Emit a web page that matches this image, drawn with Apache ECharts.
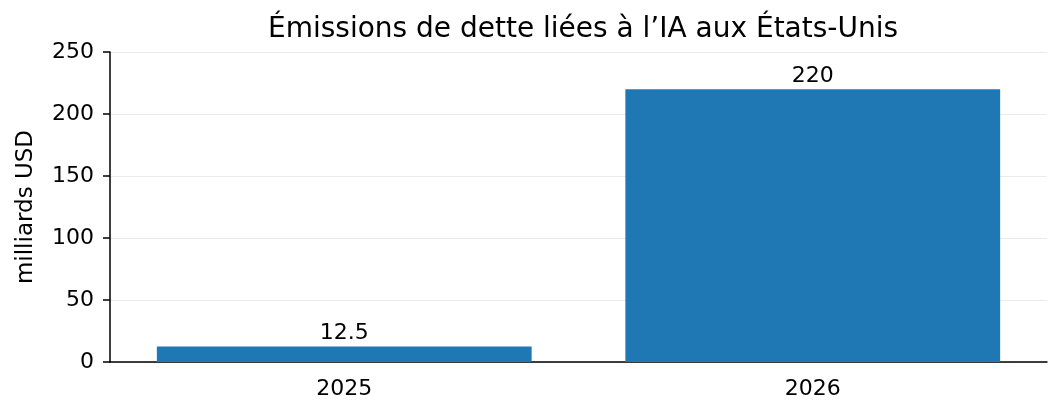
<!DOCTYPE html>
<html>
<head>
<meta charset="utf-8">
<script src="https://cdn.jsdelivr.net/npm/echarts@6/dist/echarts.min.js"></script>
<style>
  html, body { margin: 0; padding: 0; background: #fff; }
  #chart { width: 1063px; height: 418px; }
</style>
</head>
<body>
<div id="chart"></div>
<script>
var years = ['2025', '2026'];
var issuance = [12.5, 220];
var yTicks = [0, 50, 100, 150, 200, 250];

var font = 'DejaVu Sans';
var chart = echarts.init(document.getElementById('chart'));

chart.setOption({
  animation: false,
  textStyle: { fontFamily: font },
  title: {
    text: 'Émissions de dette liées à l’IA aux États-Unis',
    left: 578,
    textAlign: 'center',
    top: 11,
    textStyle: { fontFamily: font, fontSize: 28, fontWeight: 'normal', color: '#000' }
  },
  grid: { left: 110, right: 16, top: 52, bottom: 56 },
  xAxis: {
    type: 'category',
    data: years,
    axisLine: { lineStyle: { color: '#000', width: 1.5 } },
    axisTick: { alignWithLabel: true, length: 7, lineStyle: { color: '#000', width: 1.5 } },
    axisLabel: { color: '#000', fontSize: 22, margin: 16 }
  },
  yAxis: {
    type: 'value',
    min: yTicks[0],
    max: yTicks[yTicks.length - 1],
    interval: 50,
    name: 'milliards USD',
    nameLocation: 'middle',
    nameGap: 72,
    nameTextStyle: { color: '#000', fontSize: 23 },
    axisLine: { show: true, lineStyle: { color: '#000', width: 1.5 } },
    axisTick: { show: true, length: 7, lineStyle: { color: '#000', width: 1.5 } },
    axisLabel: { color: '#000', fontSize: 22, margin: 16 },
    splitLine: { lineStyle: { color: '#ebebeb', width: 1.2 } }
  },
  series: [{
    type: 'bar',
    data: issuance,
    barWidth: '80%',
    itemStyle: { color: '#1f77b4' },
    label: { show: true, position: 'top', color: '#000', fontSize: 22, distance: 2 }
  }]
});
</script>
</body>
</html>
